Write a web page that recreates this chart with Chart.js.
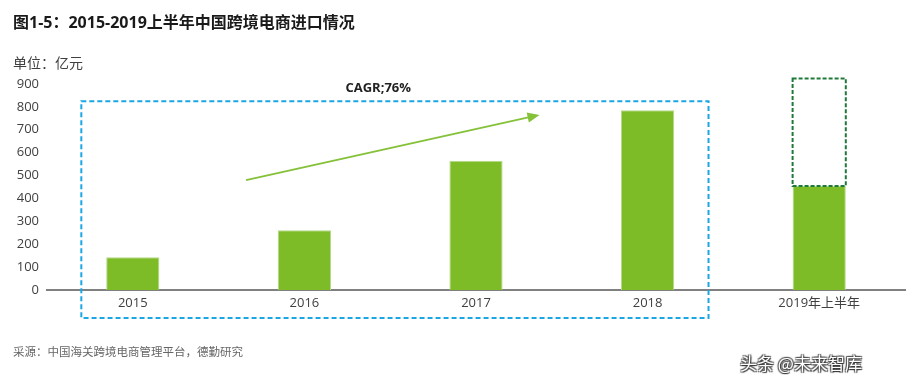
<!DOCTYPE html>
<html>
<head>
<meta charset="utf-8">
<script src="https://cdn.jsdelivr.net/npm/chart.js@4.4.0/dist/chart.umd.min.js"></script>
<style>
  body { margin: 0; background: #fff; font-family: "Open Sans", "Noto Sans CJK SC", sans-serif; }
  .wrap { position: relative; width: 922px; height: 387px; overflow: hidden; }
  #importChart { position: absolute; left: 0; top: 0; }
  .title { position: absolute; left: 13px; top: 9px; font-size: 16px; font-weight: bold; color: #1a1a1a; font-family: "Open Sans", "Noto Sans CJK SC", sans-serif; }
  .unit { position: absolute; left: 13px; top: 52px; font-size: 14px; color: #404040; font-family: "Noto Sans CJK SC", sans-serif; }
  .source { position: absolute; left: 13px; top: 343px; font-size: 11.5px; color: #666; font-family: "Noto Sans CJK SC", sans-serif; }
  .mark { position: absolute; left: 740px; top: 350px; font-size: 17px; color: #fff; font-family: "Noto Sans CJK SC", sans-serif;
          text-shadow: 1px 1px 1px #333, -1px -1px 1px #555, 1px -1px 1px #555, -1px 1px 1px #555; }
</style>
</head>
<body>
<div class="wrap">
  <canvas id="importChart" width="922" height="387"></canvas>
  <div class="title">图1-5：2015-2019上半年中国跨境电商进口情况</div>
  <div class="unit">单位：亿元</div>
  <div class="source">采源：中国海关跨境电商管理平台，德勤研究</div>
  <div class="mark">头条 @未来智库</div>
</div>
<script>
// 数据（亿元）
const years = ['2015', '2016', '2017', '2018', '2019年上半年'];
const importValues = [143, 261, 565, 785, 454];
// 2019全年预估（虚线框）
const fullYearEst = [null, null, null, null, 924];
const yTicks = [0, 100, 200, 300, 400, 500, 600, 700, 800, 900];
const cagrText = 'CAGR;76%';

const barGreen = '#7dbb27';

// 注释：蓝色虚线框、箭头、CAGR文字、2019虚线框
const notePlugin = {
  id: 'notes',
  afterDatasetsDraw(chart) {
    const ctx = chart.ctx;
    const x = chart.scales.x;
    const y = chart.scales.y;
    const step = x.getPixelForValue(1) - x.getPixelForValue(0);

    // 2019 全年虚线框
    const bar = chart.getDatasetMeta(0).data[4];
    const w = bar.width;
    const topY = y.getPixelForValue(fullYearEst[4]);
    const baseY = y.getPixelForValue(importValues[4]);
    ctx.save();
    ctx.strokeStyle = '#1f7a3a';
    ctx.lineWidth = 2;
    ctx.setLineDash([4, 2]);
    ctx.strokeRect(bar.x - w / 2, topY, w, baseY - topY);
    ctx.restore();

    // 蓝色虚线框
    const bx1 = x.getPixelForValue(0) - 0.3 * step;
    const bx2 = x.getPixelForValue(3) + 0.355 * step;
    const by1 = y.getPixelForValue(825);
    const by2 = chart.chartArea.bottom + 28;
    ctx.save();
    ctx.strokeStyle = '#1ba6e6';
    ctx.lineWidth = 2;
    ctx.setLineDash([5, 3]);
    ctx.strokeRect(bx1, by1, bx2 - bx1, by2 - by1);
    ctx.restore();

    // 箭头
    const ax1 = x.getPixelForValue(0) + 0.66 * step;
    const ay1 = y.getPixelForValue(480);
    const ax2 = x.getPixelForValue(0) + 2.37 * step;
    const ay2 = y.getPixelForValue(765);
    const ang = Math.atan2(ay2 - ay1, ax2 - ax1);
    ctx.save();
    ctx.strokeStyle = '#86c13a';
    ctx.fillStyle = '#86c13a';
    ctx.lineWidth = 2;
    ctx.beginPath();
    ctx.moveTo(ax1, ay1);
    ctx.lineTo(ax2 - 8 * Math.cos(ang), ay2 - 8 * Math.sin(ang));
    ctx.stroke();
    ctx.beginPath();
    ctx.moveTo(ax2, ay2);
    ctx.lineTo(ax2 - 12 * Math.cos(ang) + 5 * Math.sin(ang), ay2 - 12 * Math.sin(ang) - 5 * Math.cos(ang));
    ctx.lineTo(ax2 - 12 * Math.cos(ang) - 5 * Math.sin(ang), ay2 - 12 * Math.sin(ang) + 5 * Math.cos(ang));
    ctx.closePath();
    ctx.fill();
    ctx.restore();

    // CAGR
    ctx.save();
    ctx.font = 'bold 13px "Open Sans", sans-serif';
    ctx.fillStyle = '#222';
    ctx.textAlign = 'center';
    ctx.textBaseline = 'middle';
    ctx.fillText(cagrText, x.getPixelForValue(0) + 1.43 * step, y.getPixelForValue(883));
    ctx.restore();
  }
};

new Chart(document.getElementById('importChart'), {
  type: 'bar',
  data: {
    labels: years,
    datasets: [{
      data: importValues,
      backgroundColor: barGreen,
      borderColor: '#b5d98a',
      borderWidth: 1,
      barPercentage: 0.31,
      categoryPercentage: 1
    }]
  },
  options: {
    responsive: false,
    animation: false,
    layout: { padding: { top: 84, right: 17, bottom: 67, left: 0 } },
    plugins: { legend: { display: false }, tooltip: { enabled: false } },
    scales: {
      x: {
        offset: true,
        grid: { display: false, drawTicks: false },
        border: { display: true, color: '#808080', width: 2 },
        ticks: { color: '#404040', font: { size: 13, family: '"Open Sans", "Noto Sans CJK SC", sans-serif' }, padding: 5, maxRotation: 0 },
        afterFit(s) { s.height = 30; }
      },
      y: {
        min: 0,
        max: 900,
        afterBuildTicks(s) { s.ticks = yTicks.map(v => ({ value: v })); },
        grid: { display: false, drawTicks: false },
        border: { display: false },
        ticks: { color: '#404040', font: { size: 13, family: '"Open Sans", sans-serif' }, padding: 8 },
        afterFit(s) { s.width = 47; }
      }
    }
  },
  plugins: [notePlugin]
});
</script>
</body>
</html>
